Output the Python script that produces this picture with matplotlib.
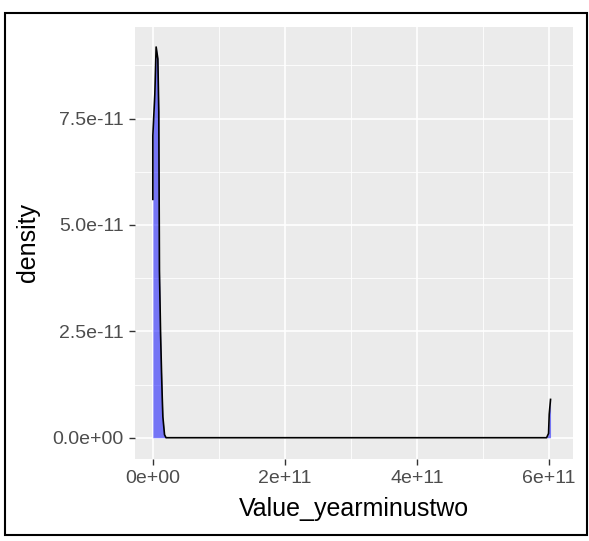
import matplotlib
matplotlib.use("Agg")
import matplotlib.pyplot as plt
from matplotlib.patches import Rectangle

# density curve (x in units of 1e11, density in 1e-11)
x_vals = [0.0, 0.0, 0.03, 0.05, 0.076, 0.09, 0.10, 0.117, 0.132, 0.142, 0.152,
          0.177, 0.20, 5.96, 5.99, 6.00, 6.02]
dens_vals = [5.6, 7.1, 8.06, 9.18, 8.9, 7.66, 3.93, 2.45, 1.52, 0.96, 0.49,
             0.07, 0.0, 0.0, 0.1, 0.55, 0.9]

x_ticks = [0, 2e11, 4e11, 6e11]
x_labels = ["0e+00", "2e+11", "4e+11", "6e+11"]
y_ticks = [0, 2.5e-11, 5.0e-11, 7.5e-11]
y_labels = ["0.0e+00", "2.5e-11", "5.0e-11", "7.5e-11"]

x = [v * 1e11 for v in x_vals]
y = [v * 1e-11 for v in dens_vals]

plt.rcParams['font.family'] = ['Liberation Sans', 'DejaVu Sans']

fig = plt.figure(figsize=(5.89, 5.41), dpi=100)
ax = fig.add_axes([135/589, 1 - 459/541, (573 - 135)/589, (459 - 27)/541])
ax.set_facecolor("#EBEBEB")

ax.fill_between(x, y, 0, color="blue", alpha=0.5, linewidth=0)
ax.plot(x, y, color="black", linewidth=1.2)

ax.set_xlim(-0.27e11, 6.36e11)
ax.set_ylim(-0.5e-11, 9.65e-11)

for v in [1e11, 3e11, 5e11]:
    ax.axvline(v, color="white", linewidth=0.6, zorder=0)
for v in [1.25e-11, 3.75e-11, 6.25e-11, 8.75e-11]:
    ax.axhline(v, color="white", linewidth=0.6, zorder=0)
for v in x_ticks:
    ax.axvline(v, color="white", linewidth=1.2, zorder=0)
for v in y_ticks:
    ax.axhline(v, color="white", linewidth=1.2, zorder=0)

ax.set_xticks(x_ticks)
ax.set_xticklabels(x_labels)
ax.set_yticks(y_ticks)
ax.set_yticklabels(y_labels)
ax.tick_params(colors="#333333", labelcolor="#4D4D4D", labelsize=14,
               length=4.5, width=1, pad=3.5)
for s in ax.spines.values():
    s.set_visible(False)

ax.set_xlabel("Value_yearminustwo", fontsize=18, labelpad=7)
ax.set_ylabel("density", fontsize=18, labelpad=9)

fig.patches.append(Rectangle((5/589, 1 - 535/541), (587 - 5)/589, (535 - 13)/541,
                             transform=fig.transFigure, fill=False,
                             edgecolor="black", linewidth=1.5))

fig.savefig("out.png", dpi=100)
